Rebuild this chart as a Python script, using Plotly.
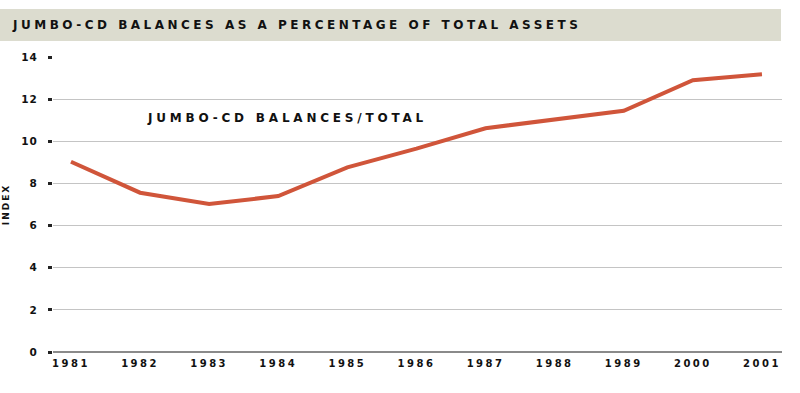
import plotly.graph_objects as go

years = ["1981", "1982", "1983", "1984", "1985", "1986", "1987", "1988", "1989", "2000", "2001"]
jumbo_share = [9.03, 7.56, 7.02, 7.40, 8.76, 9.65, 10.62, 11.05, 11.45, 12.9, 13.18]
y_ticks = [0, 2, 4, 6, 8, 10, 12, 14]

title_text = "JUMBO-CD BALANCES AS A PERCENTAGE OF TOTAL ASSETS"
series_label = "JUMBO-CD BALANCES/TOTAL"
y_title = "INDEX"

LINE = "#d0553a"
BAR = "#dcdccf"
FONT = "DejaVu Sans"

x_idx = list(range(len(years)))

fig = go.Figure()
fig.add_trace(go.Scatter(
    x=x_idx, y=jumbo_share, mode="lines",
    line=dict(color=LINE, width=4), hoverinfo="skip", showlegend=False,
))

W, H = 800, 393
ml, mr, mt, mb = 53, 18, 57, 41
pw, ph = W - ml - mr, H - mt - mb

def px(xp):
    return (xp - ml) / pw

def py(yp):
    return (H - mb - yp) / ph

fig.add_shape(type="rect", xref="paper", yref="paper",
              x0=px(0), x1=px(781), y0=py(41), y1=py(9),
              fillcolor=BAR, line=dict(width=0), layer="below")

fig.add_annotation(text=title_text, xref="paper", yref="paper",
                   x=px(10), y=py(25), xanchor="left", yanchor="middle", align="left",
                   showarrow=False, font=dict(family=FONT, size=12, color="#111", weight="bold"))
fig.add_annotation(text=series_label, xref="paper", yref="paper",
                   x=px(145), y=py(118), xanchor="left", yanchor="middle", align="left",
                   showarrow=False, font=dict(family=FONT, size=12, color="#111", weight="bold"))

fig.update_layout(
    width=W, height=H,
    margin=dict(l=ml, r=mr, t=mt, b=mb, autoexpand=False),
    paper_bgcolor="white", plot_bgcolor="white",
    xaxis=dict(
        range=[-0.26, 10.29], tickmode="array", tickvals=x_idx, ticktext=years,
        showgrid=False, zeroline=False, showline=False, ticks="",
        tickfont=dict(family=FONT, size=10, color="#111", weight="bold"),
        ticklabelstandoff=4, fixedrange=True, automargin=False,
    ),
    yaxis=dict(
        range=[0, 14], tickmode="array", tickvals=y_ticks,
        showgrid=True, gridcolor="#c4c4c4", gridwidth=1,
        zeroline=True, zerolinecolor="#8a8a8a", zerolinewidth=2,
        showline=False, ticks="outside", ticklen=4, tickwidth=3, tickcolor="#222",
        tickfont=dict(family=FONT, size=10.5, color="#111", weight="bold"),
        ticklabelstandoff=8, automargin=False,
        title=dict(text=y_title, font=dict(family=FONT, size=9, color="#111", weight="bold"), standoff=12),
        fixedrange=True,
    ),
)

post = """
var gd = document.getElementsByClassName('plotly-graph-div')[0];
var ann = gd.querySelectorAll('.annotation-text');
ann[0].style.letterSpacing = '3.5px';
ann[1].style.letterSpacing = '3.8px';
gd.querySelectorAll('.xtick text').forEach(function(e){ e.style.letterSpacing = '2.5px'; });
gd.querySelectorAll('.ytick text').forEach(function(e){ e.style.letterSpacing = '1px'; });
gd.querySelectorAll('.g-ytitle text').forEach(function(e){ e.style.letterSpacing = '2px'; });
"""

fig.write_html("out.html", post_script=post, config={"displayModeBar": False})
